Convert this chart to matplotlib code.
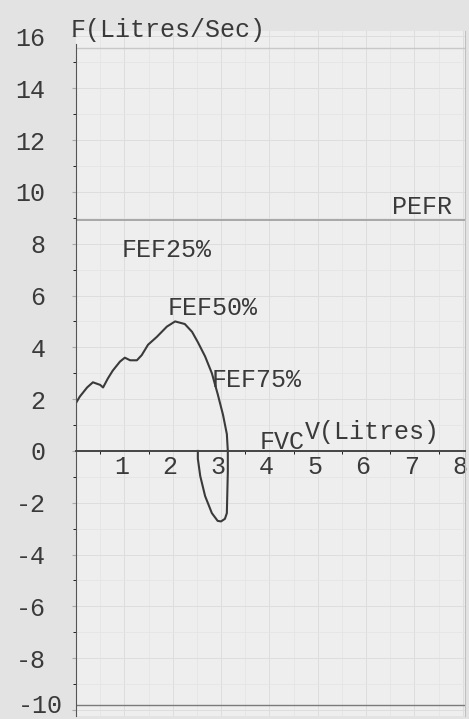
import matplotlib.pyplot as plt
from matplotlib.transforms import ScaledTranslation

# expiratory limb (volume L, flow L/s)
exp_v = [0.0, 0.0, 0.08, 0.23, 0.35, 0.50, 0.56, 0.66, 0.76, 0.91, 1.01, 1.12, 1.26,
         1.36, 1.49, 1.67, 1.88, 2.05, 2.25, 2.40, 2.52, 2.67, 2.81, 2.93, 3.04, 3.12, 3.14]
exp_f = [0.0, 1.85, 2.1, 2.45, 2.65, 2.55, 2.45, 2.8, 3.1, 3.45, 3.6, 3.5, 3.5,
         3.7, 4.1, 4.4, 4.8, 5.0, 4.9, 4.6, 4.2, 3.65, 3.0, 2.2, 1.4, 0.65, 0.0]
# inspiratory limb
insp_v = [3.14, 3.14, 3.13, 3.12, 3.08, 3.0, 2.93, 2.81, 2.67, 2.57, 2.52, 2.52]
insp_f = [0.0, -0.8, -1.6, -2.4, -2.62, -2.72, -2.7, -2.4, -1.74, -0.97, -0.3, 0.0]

pefr = 8.9
x_ticks = [1, 2, 3, 4, 5, 6, 7, 8]
y_ticks = [-10, -8, -6, -4, -2, 0, 2, 4, 6, 8, 10, 12, 14, 16]

mono = 'Liberation Mono'
fs = 18
ink = '#3a3a3a'

fig = plt.figure(figsize=(4.69, 7.19), dpi=100, facecolor='#e3e3e3')
ax = fig.add_axes([0.162, 0.0035, 0.830, 0.953], facecolor='#eeeeee')
ax.set_xlim(0, 8.05)
ax.set_ylim(-10.25, 16.2)

# faint chart-paper grid
ax.set_xticks([i * 0.5 for i in range(1, 17)], minor=True)
ax.set_yticks(list(range(-10, 16)), minor=True)
ax.grid(which='minor', color='#e5e5e5', lw=0.6)
ax.grid(which='major', color='#dddddd', lw=0.7)
ax.axhline(15.55, color='#c8c8c8', lw=1.0)
ax.axhline(-9.8, color='#7a7a7a', lw=1.0)

ax.plot(exp_v, exp_f, color=ink, lw=1.5)
ax.plot(insp_v, insp_f, color=ink, lw=1.5)
ax.axhline(pefr, color='#9c9c9c', lw=1.2)

ax.spines['top'].set_visible(False)
ax.spines['right'].set_color('#c0c0c0')
ax.spines['left'].set_color('#555555')
ax.spines['left'].set_bounds(-10.25, 15.7)
ax.spines['bottom'].set_position(('data', 0))
ax.spines['bottom'].set_color('#444444')
ax.spines['bottom'].set_linewidth(1.4)

ax.set_xticks(x_ticks)
ax.set_xticklabels([str(t) for t in x_ticks], fontfamily=mono, fontsize=fs, color=ink)
ax.set_yticks(y_ticks)
ax.set_yticklabels([str(t) for t in y_ticks], fontfamily=mono, fontsize=fs, color=ink)
ax.tick_params(axis='x', length=0, pad=3)
ax.tick_params(axis='y', length=3, color='#aaaaaa', pad=19)

for lab in ax.get_xticklabels():
    lab.set_transform(lab.get_transform() + ScaledTranslation(-0.03, 0, fig.dpi_scale_trans))
lab = ax.get_yticklabels()[0]
lab.set_transform(lab.get_transform() + ScaledTranslation(0.17, 0.065, fig.dpi_scale_trans))

tk = dict(fontfamily=mono, fontsize=fs, color=ink, clip_on=False)
ax.text(-0.12, 16.25, 'F(Litres/Sec)', va='center', ha='left', **tk)
ax.text(0.95, 7.75, 'FEF25%', va='center', ha='left', **tk)
ax.text(1.9, 5.52, 'FEF50%', va='center', ha='left', **tk)
ax.text(2.81, 2.74, 'FEF75%', va='center', ha='left', **tk)
ax.text(3.8, 0.35, 'FVC', va='center', ha='left', **tk)
ax.text(4.73, 0.73, 'V(Litres)', va='center', ha='left', **tk)
ax.text(7.77, 9.4, 'PEFR', va='center', ha='right', **tk)

fig.savefig('out.png', dpi=100, facecolor=fig.get_facecolor())
